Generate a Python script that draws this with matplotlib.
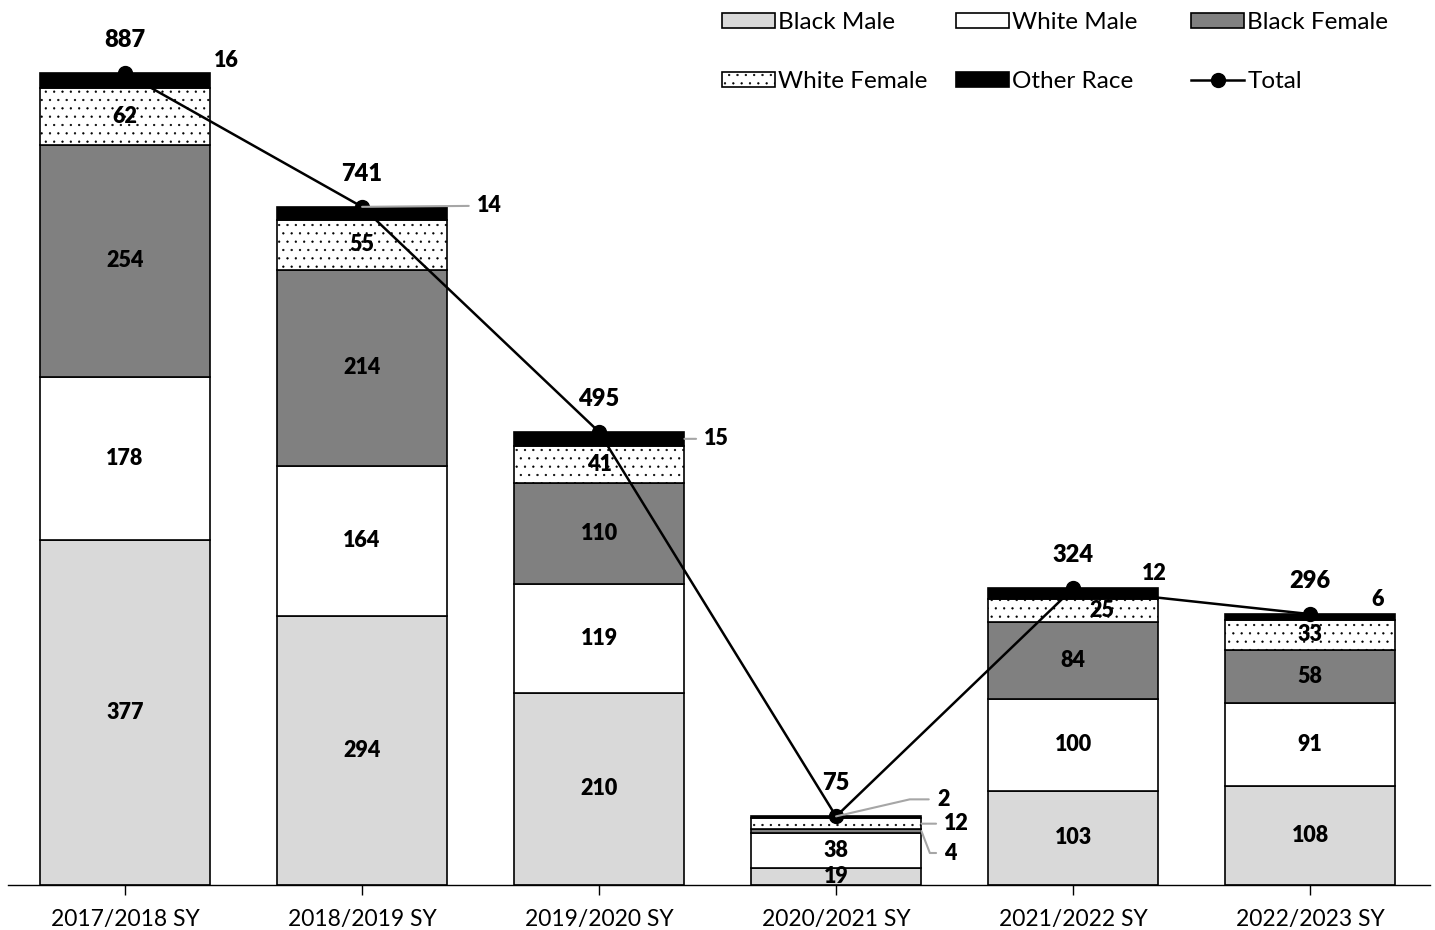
import matplotlib
matplotlib.use("Agg")
import matplotlib.pyplot as plt
from matplotlib.patches import Patch
from matplotlib.lines import Line2D

plt.rcParams["font.family"] = ["Lato", "DejaVu Sans"]
plt.rcParams["hatch.linewidth"] = 0.4

YEARS = ["2017/2018 SY", "2018/2019 SY", "2019/2020 SY",
         "2020/2021 SY", "2021/2022 SY", "2022/2023 SY"]
BLACK_MALE = [377, 294, 210, 19, 103, 108]
WHITE_MALE = [178, 164, 119, 38, 100, 91]
BLACK_FEMALE = [254, 214, 110, 4, 84, 58]
WHITE_FEMALE = [62, 55, 41, 12, 25, 33]
OTHER_RACE = [16, 14, 15, 2, 12, 6]
TOTAL = [887, 741, 495, 75, 324, 296]

SERIES = [("Black Male", BLACK_MALE, "#d9d9d9", None),
          ("White Male", WHITE_MALE, "white", None),
          ("Black Female", BLACK_FEMALE, "#808080", None),
          ("White Female", WHITE_FEMALE, "white", ".."),
          ("Other Race", OTHER_RACE, "black", None)]

W = 0.72
NUM_FONT = dict(fontsize=15.5, fontweight="heavy")
# labels drawn outside the bar: (series, bar) -> (dx px, dy px, leader, connection)
OUTSIDE = {(4, 0): (16, 13, False, None),
           (4, 1): (115, 1, True, None),
           (4, 2): (20, 0, True, None),
           (4, 3): (101, 17, True, "angle,angleA=0,angleB=13,rad=0"),
           (3, 3): (23, 0, True, None),
           (2, 3): (23, -22, True, "angle,angleA=0,angleB=111,rad=0"),
           (4, 4): (-4, 15, False, None),
           (4, 5): (-18, 15, False, None)}
# nudges for labels that stay inside
INSIDE_DX = {(3, 4): 0.12}

fig = plt.figure(figsize=(14.35, 9.3), dpi=100)
ax = fig.add_axes([8 / 1435, 45 / 930, 1422 / 1435, 885 / 930])

x = list(range(len(YEARS)))
bottoms = [0] * len(YEARS)
for si, (name, vals, color, hatch) in enumerate(SERIES):
    ax.bar(x, vals, W, bottom=bottoms, color=color, edgecolor="black",
           linewidth=1.2, hatch=hatch, zorder=2)
    for i, v in enumerate(vals):
        mid = bottoms[i] + v / 2
        if (si, i) in OUTSIDE:
            dx, dy, leader, conn = OUTSIDE[(si, i)]
            if si == 4 and i in (1, 3):
                xy = (i, bottoms[i] + v)
            elif leader:
                xy = (i + W / 2, mid)
            else:
                xy = (i + W / 2, bottoms[i] + v)
            kw = {}
            if leader:
                kw["arrowprops"] = dict(arrowstyle="-", color="#a6a6a6", lw=1.5,
                                        shrinkA=4, shrinkB=0, relpos=(0, 0.5),
                                        connectionstyle=conn or "arc3")
            ax.annotate(str(v), xy, xytext=(dx, dy), textcoords="offset pixels",
                        ha="left" if leader else "center", va="center",
                        zorder=5, **NUM_FONT, **kw)
        else:
            ax.text(i + INSIDE_DX.get((si, i), 0), mid, str(v), ha="center",
                    va="center", zorder=5, **NUM_FONT)
        bottoms[i] += v

ax.plot(x, TOTAL, color="black", lw=1.8, marker="o", markersize=10, zorder=4)
for i, t in enumerate(TOTAL):
    ax.annotate(str(t), (i, t), xytext=(0, 33), textcoords="offset pixels",
                ha="center", va="center", fontsize=17, fontweight="heavy")

ax.set_xlim(-0.494, 5.506)
ax.set_ylim(0, 967)
ax.set_xticks(x)
ax.set_xticklabels(YEARS, fontsize=16.5)
ax.set_yticks([])
for s in ["left", "right", "top"]:
    ax.spines[s].set_visible(False)
ax.spines["bottom"].set_linewidth(1)
ax.tick_params(axis="x", direction="out", length=7, width=1, pad=10)

h = {name: Patch(facecolor=color, edgecolor="black", hatch=hatch, lw=1.2)
     for name, _, color, hatch in SERIES}
h["Total"] = Line2D([], [], color="black", lw=1.8, marker="o", markersize=10)
columns = [(722, ["Black Male", "White Female"]),
           (956, ["White Male", "Other Race"]),
           (1191, ["Black Female", "Total"])]
for left, names in columns:
    leg = fig.legend([h[k] for k in names], names, loc="upper left",
                     bbox_to_anchor=(left / 1435, 1 - 12 / 930), frameon=False,
                     fontsize=17.5, handlelength=2.2, handleheight=0.58,
                     handletextpad=0.12, labelspacing=1.55, borderpad=0,
                     borderaxespad=0)

fig.savefig("out.png", dpi=100)
